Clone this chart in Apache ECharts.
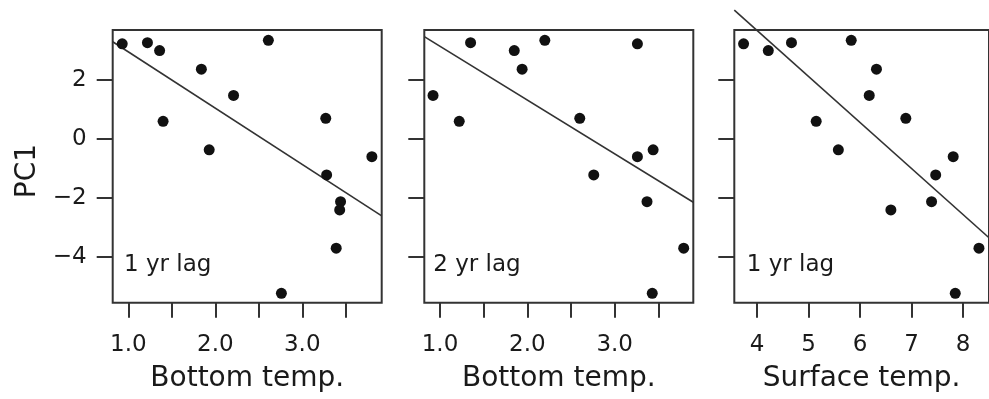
<!DOCTYPE html>
<html>
<head>
<meta charset="utf-8">
<script src="https://cdn.jsdelivr.net/npm/echarts@6/dist/echarts.min.js"></script>
<style>html,body{margin:0;padding:0;background:#fff;}#c{width:989px;height:399px;}</style>
</head>
<body>
<div id="c"></div>
<script>
// Panel 1: Bottom temp., 1 yr lag
const p1X = [0.93, 1.22, 1.36, 1.40, 1.84, 1.93, 2.21, 2.61, 2.76, 3.27, 3.28, 3.39, 3.44, 3.43, 3.80];
const p1Y = [3.23, 3.27, 3.00, 0.60, 2.37, -0.37, 1.48, 3.35, -5.24, 0.70, -1.22, -3.71, -2.13, -2.41, -0.60];
// Panel 2: Bottom temp., 2 yr lag
const p2X = [0.92, 1.22, 1.35, 1.85, 1.94, 2.20, 2.60, 2.76, 3.26, 3.26, 3.44, 3.37, 3.79, 3.43];
const p2Y = [1.48, 0.60, 3.27, 3.00, 2.37, 3.35, 0.70, -1.22, 3.23, -0.60, -0.37, -2.13, -3.71, -5.24];
// Panel 3: Surface temp., 1 yr lag
const p3X = [3.74, 4.22, 4.67, 5.83, 6.32, 6.18, 5.15, 6.89, 5.58, 7.81, 7.47, 7.39, 6.60, 7.85, 8.31];
const p3Y = [3.23, 3.00, 3.27, 3.35, 2.37, 1.48, 0.60, 0.70, -0.37, -0.60, -1.22, -2.13, -2.41, -5.24, -3.71];
// Fitted lines: intercept, slope
const fitIntercept = [4.87, 4.97, 9.94];
const fitSlope = [-1.912, -1.825, -1.563];
// Axes
const xRanges = [[0.8207, 3.913], [0.82, 3.90], [3.56, 8.505]];
const yRange = [-5.56, 3.70];
const bottomTicks = [1.0, 1.5, 2.0, 2.5, 3.0, 3.5];
const bottomLabels = [1.0, 2.0, 3.0];
const surfaceTicks = [4, 5, 6, 7, 8];
const surfaceLabels = [4, 5, 6, 7, 8];
const yTicks = [-4, -2, 0, 2];
const xTitles = ['Bottom temp.', 'Bottom temp.', 'Surface temp.'];
const lagLabels = ['1 yr lag', '2 yr lag', '1 yr lag'];
const yTitle = 'PC1';

const FONT = 'DejaVu Sans';
const INK = '#1a1a1a';
const gridLefts = [112.7, 424.3, 734.3];
const GW = 269, GT = 30, GH = 272.7;

const chart = echarts.init(document.getElementById('c'), null, {renderer: 'canvas'});

const grids = gridLefts.map(l => ({left: l, top: GT, width: GW, height: GH, show: true,
  borderColor: '#333', borderWidth: 2, backgroundColor: 'transparent', containLabel: false}));

const tickSets = [[bottomTicks, bottomLabels, v => v.toFixed(1)], [bottomTicks, bottomLabels, v => v.toFixed(1)], [surfaceTicks, surfaceLabels, v => String(v)]];

const xAxes = tickSets.map((t, i) => ({
  type: 'value', gridIndex: i, min: xRanges[i][0], max: xRanges[i][1], position: 'bottom',
  splitLine: {show: false}, axisLine: {show: false, onZero: false},
  axisTick: {show: true, inside: false, length: 15, customValues: t[0], lineStyle: {color: '#333', width: 2}},
  axisLabel: {show: true, customValues: t[1], formatter: t[2], margin: 31, fontFamily: FONT, fontSize: 23, color: INK},
  name: xTitles[i], nameLocation: 'middle', nameGap: 62,
  nameTextStyle: {fontFamily: FONT, fontSize: 28, color: INK}
}));

const yAxes = [0, 1, 2].map(i => ({
  type: 'value', gridIndex: i, min: yRange[0], max: yRange[1], position: 'left',
  splitLine: {show: false}, axisLine: {show: false, onZero: false},
  axisTick: {show: true, inside: false, length: 16, customValues: yTicks, lineStyle: {color: '#333', width: 2}},
  axisLabel: {show: i === 0, customValues: yTicks, margin: 26, fontFamily: FONT, fontSize: 23, color: INK,
    formatter: v => String(v).replace('-', '\u2212')}
}));

const series = [];
[[p1X, p1Y], [p2X, p2Y], [p3X, p3Y]].forEach((p, i) => {
  series.push({
    type: 'scatter', xAxisIndex: i, yAxisIndex: i, symbol: 'circle', symbolSize: 11,
    itemStyle: {color: '#111', opacity: 1}, data: p[0].map((x, k) => [x, p[1][k]]), clip: false, z: 3
  });
  const x0 = xRanges[i][0], x1 = xRanges[i][1];
  series.push({
    type: 'line', xAxisIndex: i, yAxisIndex: i, symbol: 'none', clip: false, z: 2,
    lineStyle: {color: '#333', width: 1.6},
    data: [[x0, fitIntercept[i] + fitSlope[i] * x0], [x1, fitIntercept[i] + fitSlope[i] * x1]]
  });
});

const lagOffsets = [11.3, 9, 12.4];
const graphic = lagLabels.map((t, i) => ({
  type: 'text', left: gridLefts[i] + lagOffsets[i], top: 254,
  style: {text: t, fontFamily: FONT, fontSize: 23, fill: INK}
}));
graphic.push({
  type: 'text', x: 28, y: 171, rotation: Math.PI / 2,
  style: {text: yTitle, fontFamily: FONT, fontSize: 28, fill: INK, align: 'center', verticalAlign: 'middle'}
});

chart.setOption({
  animation: false,
  backgroundColor: '#fff',
  grid: grids, xAxis: xAxes, yAxis: yAxes, series: series, graphic: graphic
});
</script>
</body>
</html>
